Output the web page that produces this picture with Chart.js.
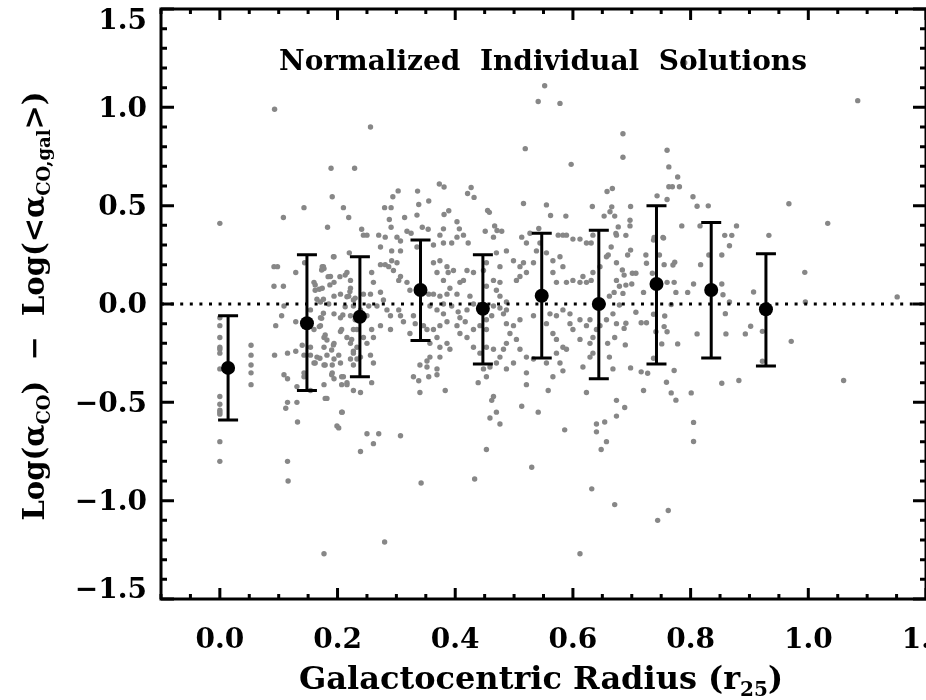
<!DOCTYPE html>
<html><head><meta charset="utf-8">
<script src="https://cdn.jsdelivr.net/npm/chart.js@4.4.1/dist/chart.umd.min.js"></script>
<style>html,body{margin:0;padding:0;background:#fff;overflow:hidden}canvas{display:block}</style>
</head><body>
<canvas id="c" width="926" height="700"></canvas>
<script>
// ---- binned means (black points with error bars) ----
const binRadius = [0.014, 0.148, 0.238, 0.341, 0.447, 0.547, 0.644, 0.742, 0.835, 0.928];
const binMean   = [-0.325, -0.098, -0.065, 0.071, -0.024, 0.042, 0.0, 0.102, 0.071, -0.027];
const binUpper  = [-0.06, 0.25, 0.24, 0.325, 0.25, 0.36, 0.375, 0.50, 0.415, 0.255];
const binLower  = [-0.59, -0.44, -0.37, -0.185, -0.305, -0.275, -0.38, -0.305, -0.275, -0.315];

// ---- individual normalized solutions (gray points): [radius, delta log] ----
const individualPoints = [
[0.093,0.99],[0.0,0.41],[0.108,0.44],[0.143,0.49],
[0.256,0.90],[0.189,0.69],[0.229,0.69],[0.552,1.11],[0.541,1.03],[0.578,1.02],[0.519,0.79],[0.597,0.71],
[0.191,0.545],[0.21,0.49],[0.219,0.44],[0.183,0.39],[0.241,0.38],[0.294,0.545],[0.303,0.575],[0.28,0.49],
[0.291,0.49],[0.288,0.43],[0.291,0.39],[0.314,0.44],[0.336,0.574],[0.338,0.506],[0.335,0.452],[0.355,0.524],
[0.325,0.36],[0.344,0.39],[0.354,0.38],[0.373,0.61],[0.381,0.595],[0.389,0.474],[0.381,0.455],[0.38,0.382],
[0.403,0.418],[0.407,0.382],[0.427,0.592],[0.421,0.562],[0.432,0.542],[0.455,0.476],[0.458,0.466],[0.467,0.397],
[0.471,0.374],[0.516,0.511],[0.542,0.384],[0.555,0.504],[0.562,0.45],[0.588,0.447],[0.633,0.496],[0.653,0.447],
[0.658,0.572],[0.667,0.587],[0.666,0.494],[0.663,0.469],[0.671,0.447],[0.677,0.392],
[0.79,1.227],[1.084,1.034],[0.685,0.866],[0.685,0.746],[0.76,0.782],[0.763,0.697],[0.778,0.646],[0.763,0.596],
[0.769,0.596],[0.781,0.596],[0.743,0.55],[0.76,0.531],[0.804,0.545],[0.811,0.497],[0.83,0.499],[0.967,0.51],
[1.033,0.41],[0.785,0.397],[0.816,0.397],[0.878,0.397],[0.858,0.349],[0.87,0.349],[0.933,0.349],[0.698,0.496],
[0.697,0.426],[0.697,0.397],[0.69,0.349],[0.673,0.359],[0.753,0.339],[0.738,0.339],
[0.994,0.161],[0.995,0.01],[1.151,0.036],[0.971,-0.19],[1.06,-0.389],[0.866,0.296],[0.853,0.249],[0.817,0.2],
[0.805,0.102],[0.795,0.059],[0.853,0.102],[0.855,0.047],[0.866,0.01],[0.859,-0.049],[0.811,-0.152],[0.86,-0.152],
[0.893,-0.152],[0.902,-0.113],[0.907,0.061],[0.922,-0.139],[0.922,-0.291],[0.853,-0.403],[0.882,-0.389],[0.831,0.249],
[0.801,-0.452],[0.805,-0.602],[0.805,-0.699],[0.775,-0.489],[0.767,-0.452],[0.759,-0.398],[0.772,-0.338],[0.778,-0.203],
[0.76,-0.141],[0.755,-0.115],[0.756,-0.061],[0.751,-0.203],[0.741,-0.141],[0.737,-0.276],[0.737,-0.052],[0.767,-0.003],
[0.775,0.059],[0.772,0.11],[0.76,0.11],[0.773,0.212],[0.77,0.198],[0.755,0.2],[0.747,0.249],[0.754,0.335],
[0.737,0.325],[0.735,0.156],[0.72,0.059],[0.724,0.249],[0.725,0.207],[0.698,0.274],[0.693,0.249],[0.701,0.156],
[0.707,0.156],[0.7,0.102],[0.69,0.096],[0.707,-0.042],[0.716,-0.095],[0.725,-0.095],[0.69,-0.098],[0.687,-0.124],
[0.679,-0.005],[0.67,0.059],[0.684,0.173],[0.687,0.147],[0.66,0.249],[0.685,0.054],[0.689,-0.208],[0.698,-0.325],
[0.716,-0.345],[0.727,-0.352],[0.72,-0.44],[0.688,-0.526],[0.659,-0.2],
[0.244,0.35],[0.25,0.35],[0.27,0.35],[0.281,0.34],[0.301,0.34],[0.307,0.32],[0.318,0.37],[0.374,0.35],
[0.38,0.31],[0.394,0.31],[0.403,0.34],[0.414,0.35],[0.422,0.31],[0.451,0.37],[0.465,0.34],[0.479,0.37],
[0.513,0.34],[0.521,0.31],[0.527,0.36],[0.575,0.35],[0.583,0.35],[0.589,0.35],[0.6,0.33],[0.612,0.33],
[0.623,0.31],[0.631,0.31],[0.634,0.35],[0.665,0.29],[0.674,0.35],[0.273,0.29],[0.292,0.27],[0.307,0.27],
[0.335,0.29],[0.363,0.30],
[0.194,0.24],[0.174,0.19],[0.177,0.18],[0.188,0.14],[0.194,0.11],[0.16,0.11],[0.162,0.07],[0.174,0.08],
[0.194,0.04],[0.171,0.01],[0.185,0.0],[0.205,0.05],[0.216,0.16],[0.222,0.12],[0.222,0.08],[0.219,0.04],
[0.23,0.03],[0.244,0.05],[0.256,0.05],[0.258,0.16],[0.261,0.11],[0.273,0.2],[0.281,0.2],[0.287,0.19],
[0.292,0.22],[0.295,0.17],[0.301,0.21],[0.307,0.14],[0.304,0.12],[0.318,0.11],[0.323,0.07],[0.273,0.06],
[0.278,0.02],[0.267,-0.01],[0.284,-0.03],[0.29,-0.06],[0.304,-0.03],[0.307,-0.06],[0.312,-0.09],[0.329,-0.06],
[0.332,-0.1],[0.323,-0.15],[0.29,-0.13],[0.273,-0.11],[0.25,-0.06],[0.253,-0.01],[0.239,-0.03],[0.227,-0.01],
[0.222,-0.06],[0.205,-0.07],[0.194,-0.05],[0.171,-0.07],[0.154,-0.03],[0.16,-0.13],[0.171,-0.11],[0.177,-0.17],
[0.194,-0.2],[0.205,-0.14],[0.216,-0.17],[0.227,-0.13],[0.222,-0.2],[0.233,-0.22],[0.244,-0.17],[0.25,-0.2],
[0.258,-0.13],[0.261,-0.17],[0.154,-0.22],[0.177,-0.22],[0.154,-0.26],[0.165,-0.27],[0.182,-0.26],[0.194,-0.28],
[0.202,-0.26],[0.205,-0.3],[0.222,-0.28],[0.227,-0.24],[0.239,-0.27],[0.256,-0.26],[0.261,-0.3],[0.16,-0.3],
[0.177,-0.31],[0.191,-0.31],[0.191,-0.35],[0.194,-0.38],[0.21,-0.37],[0.177,-0.41],[0.216,-0.41],[0.227,-0.44],
[0.239,-0.45],[0.258,-0.4],[0.179,-0.48],[0.154,-0.44],[0.143,-0.37],[0.34,-0.31],[0.352,-0.32],[0.369,-0.33],
[0.369,-0.36],[0.355,-0.37],[0.338,-0.39],[0.329,-0.37],[0.34,-0.45],[0.383,-0.44],[0.208,-0.55],[0.202,-0.63],
[0.239,-0.75],[0.25,-0.66],[0.27,-0.66],[0.261,-0.71],[0.307,-0.67],[0.352,-0.29],[0.357,-0.27],
[0.363,0.21],[0.369,0.16],[0.374,0.22],[0.386,0.19],[0.38,0.12],[0.388,0.16],[0.397,0.17],[0.391,0.08],
[0.403,0.05],[0.408,0.11],[0.414,0.12],[0.42,0.17],[0.431,0.16],[0.425,0.04],[0.431,0.0],[0.42,-0.03],
[0.405,-0.04],[0.38,-0.05],[0.369,-0.03],[0.357,-0.01],[0.355,0.05],[0.363,0.05],[0.374,0.04],[0.386,0.05],
[0.38,0.0],[0.394,-0.01],[0.408,-0.07],[0.417,-0.09],[0.403,-0.11],[0.386,-0.09],[0.374,-0.11],[0.363,-0.13],
[0.369,-0.17],[0.352,-0.13],[0.346,-0.11],[0.357,-0.2],[0.374,-0.22],[0.386,-0.2],[0.391,-0.23],[0.408,-0.15],
[0.42,-0.17],[0.431,-0.13],[0.442,-0.11],[0.453,-0.13],[0.462,-0.06],[0.453,-0.08],[0.465,-0.01],[0.476,-0.02],
[0.487,0.01],[0.476,0.04],[0.47,0.07],[0.476,0.11],[0.465,0.12],[0.453,0.09],[0.448,0.17],[0.453,0.21],
[0.476,0.19],[0.47,0.26],[0.487,0.27],[0.499,0.22],[0.504,0.12],[0.51,0.19],[0.516,0.21],[0.51,0.14],
[0.521,0.16],[0.533,0.21],[0.538,0.27],[0.544,0.31],[0.555,0.26],[0.566,0.22],[0.578,0.24],[0.583,0.19],
[0.566,0.16],[0.572,0.11],[0.589,0.11],[0.6,0.12],[0.612,0.11],[0.617,0.14],[0.623,0.11],[0.631,0.12],
[0.634,0.16],[0.646,0.19],[0.657,0.24],[0.674,0.21],[0.674,0.12],[0.679,0.09],[0.662,0.04],[0.668,-0.05],
[0.674,-0.1],[0.671,-0.17],[0.657,-0.08],[0.646,-0.11],[0.629,-0.08],[0.623,-0.11],[0.634,-0.17],[0.64,-0.13],
[0.612,-0.08],[0.595,-0.05],[0.583,-0.03],[0.572,-0.06],[0.561,-0.05],[0.555,-0.1],[0.566,-0.15],[0.572,-0.18],
[0.572,-0.25],[0.583,-0.22],[0.589,-0.23],[0.578,-0.3],[0.583,-0.34],[0.566,-0.37],[0.558,-0.44],[0.555,-0.3],
[0.533,-0.28],[0.521,-0.27],[0.51,-0.23],[0.504,-0.18],[0.493,-0.15],[0.487,-0.2],[0.482,-0.23],[0.476,-0.27],
[0.47,-0.3],[0.459,-0.32],[0.465,-0.23],[0.453,-0.37],[0.439,-0.4],[0.448,-0.33],[0.521,-0.35],[0.521,-0.41],
[0.513,-0.52],[0.541,-0.55],[0.586,-0.64],[0.453,-0.74],[0.462,-0.49],[0.465,-0.47],[0.47,-0.55],[0.459,-0.58],
[0.476,-0.61],[0.53,-0.83],[0.617,-0.32],[0.623,-0.45],[0.64,-0.61],[0.654,-0.6],[0.64,-0.65],[0.657,-0.7],
[0.648,-0.74],[0.674,-0.49],[0.674,-0.57],[0.668,-0.33],[0.662,-0.27],[0.634,-0.25],[0.629,-0.27],[0.629,-0.2],
[0.612,-0.18],[0.6,-0.13],[0.595,-0.1],[0.533,-0.06],[0.51,-0.08],[0.499,-0.11],[0.487,-0.1],[0.482,-0.05],
[0.487,-0.03],[0.431,-0.22],[0.442,-0.25],[0.453,-0.22],[0.374,-0.27],[0.499,-0.3],[0.487,-0.33],
[0.0,-0.07],[0.0,-0.11],[0.0,-0.17],[0.0,-0.22],[0.0,-0.23],[0.0,-0.25],[0.0,-0.33],[0.0,-0.47],
[0.0,-0.51],[0.0,-0.54],[0.0,-0.55],[0.0,-0.56],[0.0,-0.70],[0.0,-0.80],
[0.053,-0.21],[0.053,-0.26],[0.053,-0.31],[0.053,-0.35],[0.053,-0.41],
[0.092,0.19],[0.098,0.19],[0.092,0.09],[0.108,0.09],[0.129,0.16],[0.144,0.21],[0.109,-0.01],[0.105,-0.06],
[0.095,-0.11],[0.129,-0.09],[0.093,-0.26],[0.115,-0.25],[0.129,-0.24],[0.14,-0.21],[0.143,-0.26],[0.109,-0.36],
[0.115,-0.38],[0.131,-0.42],[0.115,-0.5],[0.112,-0.53],[0.131,-0.5],[0.132,-0.6],[0.115,-0.8],[0.143,-0.35],
[0.116,-0.9],
[0.177,-1.27],[0.28,-1.21],[0.342,-0.91],[0.433,-0.89],[0.632,-0.94],[0.671,-1.02],[0.612,-1.27],[0.744,-1.1],[0.762,-1.05],
[0.176,0.19],[0.173,0.173],[0.162,0.097],[0.169,0.075],[0.165,0.024],[0.176,0.024],[0.173,-0.073],[0.169,-0.115],
[0.179,-0.158],[0.182,-0.183],[0.193,-0.208],[0.19,-0.234],[0.162,-0.30],[0.17,-0.276],[0.179,-0.31],[0.19,-0.36],
[0.207,-0.37],[0.216,-0.40],[0.207,-0.41],[0.182,-0.48],[0.207,-0.55],[0.199,-0.62],[0.207,-0.13],[0.209,-0.056],
[0.213,-0.014],[0.216,0.037],[0.221,0.063],[0.227,0.02],[0.23,-0.08],[0.233,-0.13],[0.224,-0.18],[0.227,-0.25],
[0.233,-0.28],[0.227,-0.31],[0.193,0.24],[0.22,0.26],[0.184,0.139],[0.187,0.097],[0.204,0.139],[0.213,0.147],[0.176,-0.047]
];

// ---- axes / text ----
const referenceLevel = 0;
const xRange = [-0.1, 1.2];
const yRange = [-1.5, 1.5];
const xTickValues = [0.0, 0.2, 0.4, 0.6, 0.8, 1.0, 1.2];
const xTickLabels = ['0.0', '0.2', '0.4', '0.6', '0.8', '1.0', '1.2'];
const yTickValues = [-1.5, -1.0, -0.5, 0.0, 0.5, 1.0, 1.5];
const yTickLabels = ['\u22121.5', '\u22121.0', '\u22120.5', '0.0', '0.5', '1.0', '1.5'];
const titleText = 'Normalized  Individual  Solutions';
const xTitleParts = [['Galactocentric Radius (r', 0], ['25', 1], [')', 0]];
const yTitleParts = [['Log(\u03b1', 0], ['CO', 1], [')  \u2212  Log(<\u03b1', 0], ['CO,gal', 1], ['>)', 0]];

const FONT = '"DejaVu Serif"';

function richWidth(ctx, parts, size) {
  let w = 0;
  for (const [t, sub] of parts) {
    ctx.font = 'bold ' + (sub ? Math.round(size * 0.62) : size) + 'px ' + FONT;
    w += ctx.measureText(t).width;
  }
  return w;
}
function drawRich(ctx, parts, cx, baseY, size) {
  let x = cx - richWidth(ctx, parts, size) / 2;
  ctx.textAlign = 'left';
  ctx.textBaseline = 'alphabetic';
  for (const [t, sub] of parts) {
    const s = sub ? Math.round(size * 0.62) : size;
    ctx.font = 'bold ' + s + 'px ' + FONT;
    ctx.fillText(t, x, baseY + (sub ? size * 0.22 : 0));
    x += ctx.measureText(t).width;
  }
}

const errorBarPlugin = {
  id: 'errorBars',
  beforeDatasetDraw(chart, args) {
    if (args.index !== 0) return;
    const {ctx, scales: {x, y}} = chart;
    ctx.save();
    ctx.strokeStyle = '#000';
    ctx.lineWidth = 3;
    ctx.lineCap = 'butt';
    for (let i = 0; i < binRadius.length; i++) {
      const px = x.getPixelForValue(binRadius[i]);
      const pt = y.getPixelForValue(binUpper[i]);
      const pb = y.getPixelForValue(binLower[i]);
      ctx.beginPath();
      ctx.moveTo(px, pt); ctx.lineTo(px, pb);
      ctx.moveTo(px - 10, pt); ctx.lineTo(px + 10, pt);
      ctx.moveTo(px - 10, pb); ctx.lineTo(px + 10, pb);
      ctx.stroke();
    }
    ctx.restore();
  }
};

const framePlugin = {
  id: 'frame',
  afterDraw(chart) {
    const {ctx, chartArea: a, scales: {x, y}} = chart;
    ctx.save();
    ctx.strokeStyle = '#000';
    ctx.fillStyle = '#000';
    ctx.lineWidth = 3;
    ctx.strokeRect(a.left, a.top, a.right - a.left, a.bottom - a.top);
    ctx.beginPath();
    for (let i = -2; i <= 24; i++) {
      const px = x.getPixelForValue(i * 0.05);
      const len = (i % 4 === 0) ? 11 : 5;
      ctx.moveTo(px, a.bottom); ctx.lineTo(px, a.bottom - len);
      ctx.moveTo(px, a.top); ctx.lineTo(px, a.top + len);
    }
    for (let i = -15; i <= 15; i++) {
      const py = y.getPixelForValue(i * 0.1);
      const len = (i % 5 === 0) ? 13 : 6;
      ctx.moveTo(a.left, py); ctx.lineTo(a.left + len, py);
      ctx.moveTo(a.right, py); ctx.lineTo(a.right - len, py);
    }
    ctx.stroke();

    // tick labels
    ctx.font = 'bold 28px ' + FONT;
    ctx.textAlign = 'center';
    ctx.textBaseline = 'alphabetic';
    xTickValues.forEach((v, i) => {
      ctx.fillText(xTickLabels[i], x.getPixelForValue(v), 648);
    });
    ctx.textAlign = 'right';
    ctx.textBaseline = 'middle';
    yTickValues.forEach((v, i) => {
      const py = Math.min(Math.max(y.getPixelForValue(v) + 2, a.top + 13), a.bottom - 8);
      ctx.fillText(yTickLabels[i], 147, py);
    });

    // title
    ctx.font = 'bold 28px ' + FONT;
    ctx.textAlign = 'center';
    ctx.textBaseline = 'alphabetic';
    ctx.fillText(titleText, 543, 70);

    // axis titles
    drawRich(ctx, xTitleParts, 541, 689, 32);
    ctx.save();
    ctx.translate(44, 306);
    ctx.rotate(-Math.PI / 2);
    drawRich(ctx, yTitleParts, 0, 0, 29);
    ctx.restore();
    ctx.restore();
  }
};

new Chart(document.getElementById('c'), {
  type: 'scatter',
  data: {
    datasets: [
      {
        label: 'Binned mean',
        data: binRadius.map((r, i) => ({x: r, y: binMean[i]})),
        backgroundColor: '#000', borderColor: '#000', borderWidth: 0,
        pointRadius: 7, pointHoverRadius: 7
      },
      {
        label: 'Zero',
        type: 'line',
        data: [{x: xRange[0], y: referenceLevel}, {x: xRange[1], y: referenceLevel}],
        borderColor: '#000', borderWidth: 3, borderDash: [3, 6.6],
        borderCapStyle: 'butt', pointRadius: 0, fill: false
      },
      {
        label: 'Individual',
        data: individualPoints.map(p => ({x: p[0], y: p[1]})),
        backgroundColor: '#878787', borderWidth: 0,
        pointRadius: 2.7, pointHoverRadius: 2.7
      }
    ]
  },
  options: {
    responsive: false,
    animation: false,
    devicePixelRatio: 1,
    layout: {autoPadding: false, padding: {left: 161, right: 0, top: 9, bottom: 101}},
    plugins: {legend: {display: false}, tooltip: {enabled: false}},
    scales: {
      x: {type: 'linear', min: xRange[0], max: xRange[1], display: false},
      y: {type: 'linear', min: yRange[0], max: yRange[1], display: false}
    }
  },
  plugins: [errorBarPlugin, framePlugin]
});
</script>
</body></html>
